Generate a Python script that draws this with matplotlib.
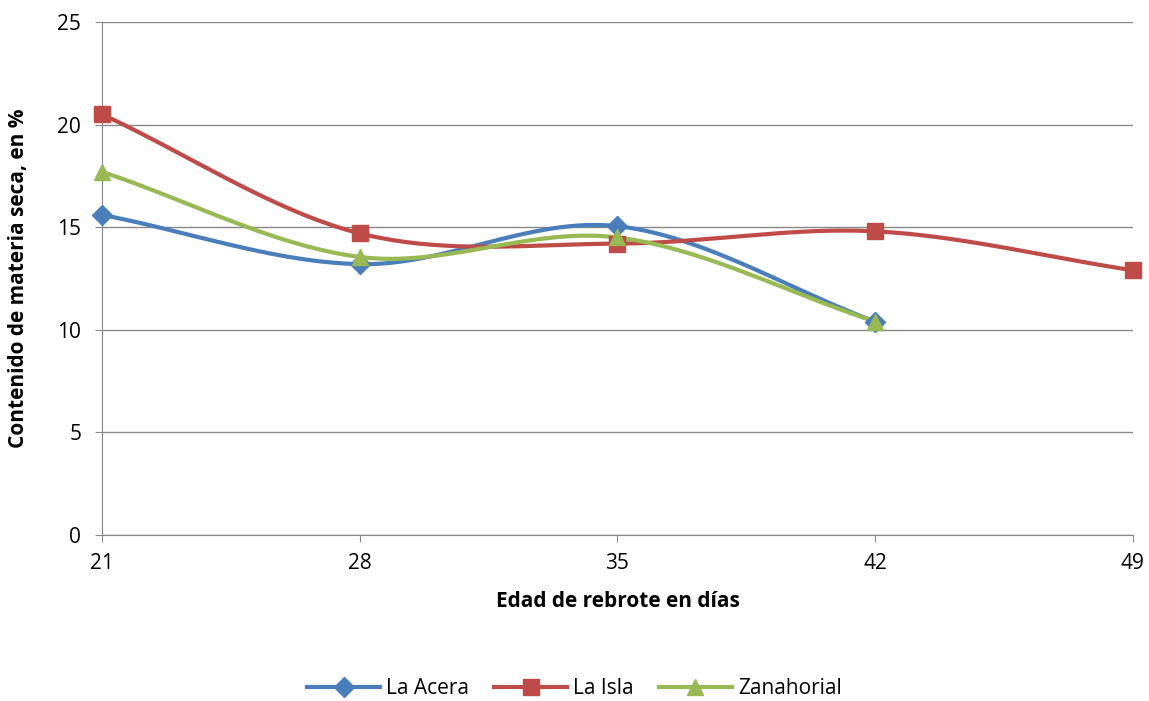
import numpy as np
import matplotlib
matplotlib.use("Agg")
import matplotlib.pyplot as plt
from matplotlib.lines import Line2D

plt.rcParams['font.family'] = ['Open Sans', 'DejaVu Sans']

dias = [21, 28, 35, 42, 49]
la_acera = [15.6, 13.2, 15.05, 10.4]
la_isla = [20.5, 14.7, 14.2, 14.8, 12.9]
zanahorial = [17.7, 13.55, 14.5, 10.4]

def smooth(x, y, n=40):
    x = np.asarray(x, float); y = np.asarray(y, float)
    px = np.concatenate([[2*x[0]-x[1]], x, [2*x[-1]-x[-2]]])
    py = np.concatenate([[2*y[0]-y[1]], y, [2*y[-1]-y[-2]]])
    xs, ys = [], []
    t = np.linspace(0, 1, n)
    for i in range(1, len(px)-2):
        p0, p1, p2, p3 = [np.array([px[j], py[j]]) for j in range(i-1, i+3)]
        c1 = p1 + (p2-p0)/6
        c2 = p2 - (p3-p1)/6
        b = ((1-t)**3)[:, None]*p1 + (3*(1-t)**2*t)[:, None]*c1 + (3*(1-t)*t**2)[:, None]*c2 + (t**3)[:, None]*p2
        xs.extend(b[:, 0]); ys.extend(b[:, 1])
    return xs, ys

fig = plt.figure(figsize=(11.49, 7.01), dpi=100)
ax = fig.add_axes([0.0888, 0.2368, 0.8972, 0.7318])

series = [("La Acera", la_acera, "#4A7EBB", "D", 10),
          ("La Isla", la_isla, "#BE4B48", "s", 12),
          ("Zanahorial", zanahorial, "#98B954", "^", 12)]
handles = []
for name, vals, c, m, ms in series:
    xs = dias[:len(vals)]
    sx, sy = smooth(xs, vals)
    ax.plot(sx, sy, color=c, lw=3, zorder=3, clip_on=False)
    ax.plot(xs, vals, ls='none', marker=m, ms=ms, color=c, zorder=4, clip_on=False)
    handles.append(Line2D([0], [0], color=c, lw=3, marker=m, ms=ms, label=name))

ax.set_xlim(21, 49)
ax.set_ylim(0, 25)
ax.set_xticks(dias)
ax.set_yticks(range(0, 26, 5))
ax.grid(axis='y', color='#888888', lw=1)
ax.set_axisbelow(True)
for s in ['top', 'right']:
    ax.spines[s].set_visible(False)
for s in ['left', 'bottom']:
    ax.spines[s].set_color('#888888')
ax.tick_params(axis='both', labelsize=15, length=5, color='#888888')
ax.tick_params(axis='x', pad=8)
ax.tick_params(axis='y', pad=10)
ax.set_xlabel("Edad de rebrote en días", fontsize=15, fontweight='bold', labelpad=12)
ax.set_ylabel("Contenido de materia seca, en %", fontsize=15, fontweight='bold', labelpad=20)
fig.legend(handles=handles, loc='center', bbox_to_anchor=(0.5, 0.018), ncol=3,
           frameon=False, fontsize=15, handlelength=3.5, columnspacing=1.2, handletextpad=0.3)
fig.savefig("out.png", dpi=100)
